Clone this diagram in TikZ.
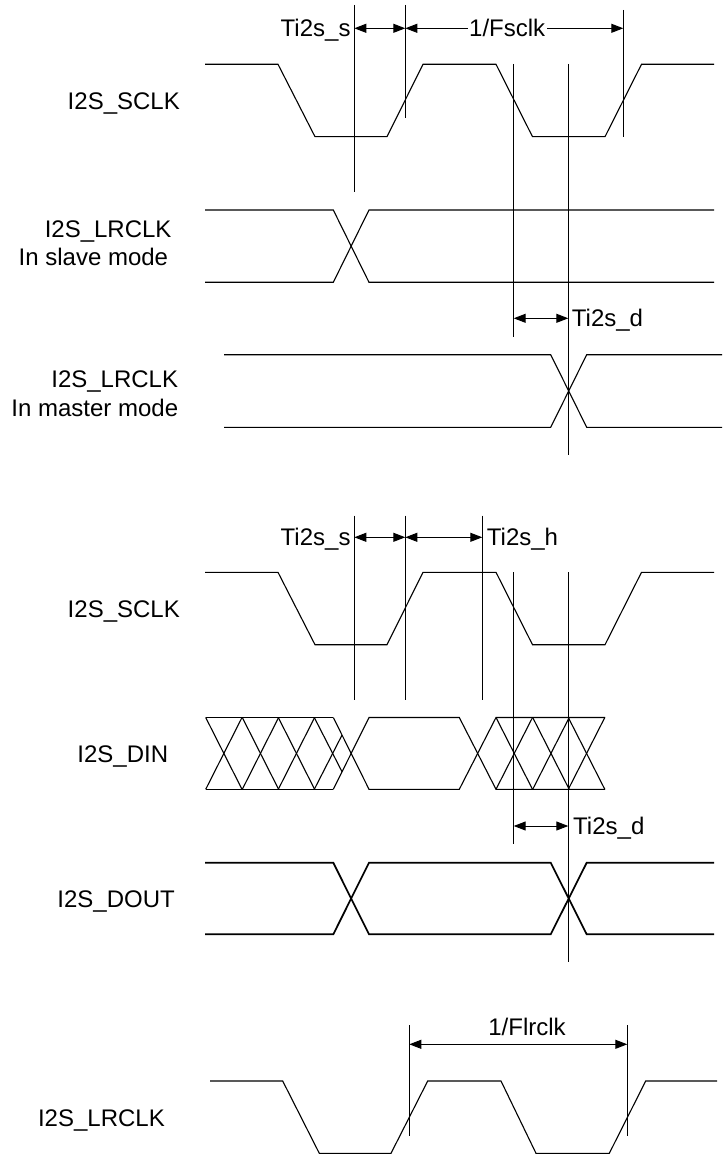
\documentclass[tikz,border=0pt]{standalone}
\usepackage{fontspec}
\setmainfont{Liberation Sans}
\usetikzlibrary{arrows.meta}
\begin{document}
\begin{tikzpicture}[x=1pt,y=-1pt,
  sig/.style={line width=1.1pt, line join=miter},
  boldsig/.style={line width=1.7pt, line join=miter},
  marker/.style={line width=1pt},
  dim/.style={line width=1pt, {Triangle[length=12pt,width=9pt]}-{Triangle[length=12pt,width=9pt]}},
  lbl/.style={font=\fontsize{24}{28}\selectfont, inner sep=0pt},
]
\useasboundingbox (0,0) rectangle (722,1155);

% ---------- signal labels ----------
\node[lbl, anchor=base east] (lsclk1) at (180,109.3) {I2S\_SCLK};
\node[lbl, anchor=base east] (llrs1) at (171.7,237.3) {I2S\_LRCLK};
\node[lbl, anchor=base east] (llrs2) at (168.3,265.7) {In slave mode};
\node[lbl, anchor=base east] (llrm1) at (178.3,387.7) {I2S\_LRCLK};
\node[lbl, anchor=base east] (llrm2) at (178.4,416.1) {In master mode};
\node[lbl, anchor=base east] (lsclk2) at (180,617.3) {I2S\_SCLK};
\node[lbl, anchor=base east] (ldin) at (168.3,762.3) {I2S\_DIN};
\node[lbl, anchor=base east] (ldout) at (175,907.3) {I2S\_DOUT};
\node[lbl, anchor=base east] (llr3) at (165,1126) {I2S\_LRCLK};

% ---------- top section waveforms ----------
\draw[sig] (205,64.3) -- (278,64.3) -- (315,136.7) -- (387,136.7) -- (423,64.3)
  -- (496,64.3) -- (532.5,136.7) -- (605,136.7) -- (641.5,64.3) -- (714,64.3);
\draw[sig] (205,210) -- (333.3,210) -- (369,282.3) -- (714,282.3);
\draw[sig] (205,282.3) -- (333.3,282.3) -- (369,210) -- (714,210);
\draw[sig] (224,354.7) -- (550.7,354.7) -- (586.7,427.3) -- (722,427.3);
\draw[sig] (224,427.3) -- (550.7,427.3) -- (586.7,354.7) -- (722,354.7);

% ---------- top section markers ----------
\coordinate (v1t) at (354.3,5);   \coordinate (v1b) at (354.3,191.7);
\coordinate (v2t) at (405.3,5);   \coordinate (v2b) at (405.3,118);
\coordinate (v3t) at (623.3,10);  \coordinate (v3b) at (623.3,136.7);
\coordinate (v4t) at (513.7,64);  \coordinate (v4b) at (513.7,336.7);
\coordinate (v5t) at (568.3,64);  \coordinate (v5b) at (568.3,455);
\foreach \a in {1,...,5} {\draw[marker] (v\a t) -- (v\a b);}

\coordinate (a1) at (354.3,28.3);
\coordinate (a2) at (405.3,28.3);
\coordinate (a3) at (623.3,28.3);
\draw[dim] (a1) -- (a2);
\draw[dim] (a2) -- (a3);
\node[lbl, anchor=base east] (ts1) at (350.7,36.9) {Ti2s\_s};
\node[lbl, anchor=base, fill=white, inner xsep=1.5pt, inner ysep=0pt] (fs) at (507.2,36.9) {1/Fsclk};

\coordinate (d1a) at (513.7,318.3);
\coordinate (d1b) at (568.3,318.3);
\draw[dim] (d1a) -- (d1b);
\node[lbl, anchor=base west] (td1) at (571.7,326.9) {Ti2s\_d};

% ---------- middle section waveforms ----------
\draw[sig] (205,572.3) -- (278,572.3) -- (315,644.7) -- (387,644.7) -- (423,572.3)
  -- (496,572.3) -- (532.5,644.7) -- (605,644.7) -- (641.5,572.3) -- (714,572.3);

% DIN
\draw[sig] (205.7,717.5) -- (333.3,717.5);
\draw[sig] (205.7,789.3) -- (333.3,789.3);
\foreach \s in {205.7,242.3,278.3} {
  \draw[sig] (\s,717.5) -- ++(36.3,71.8);
  \draw[sig] (\s,789.3) -- ++(36.3,-71.8);
}
\draw[sig] (314.3,717.5) -- (342,771.7);
\draw[sig] (314.3,789.3) -- (342,735.1);
\draw[sig] (333.3,717.5) -- (369,789.3) -- (459.3,789.3) -- (496,717.5) -- (605,717.5);
\draw[sig] (333.3,789.3) -- (369,717.5) -- (459.3,717.5) -- (496,789.3) -- (605,789.3);
\foreach \s in {496,532.7,568.3} {
  \draw[sig] (\s,717.5) -- ++(36.5,71.8);
  \draw[sig] (\s,789.3) -- ++(36.5,-71.8);
}

% DOUT
\draw[boldsig] (205,862.7) -- (333.3,862.7) -- (369,934.3) -- (550.7,934.3) -- (586.7,862.7) -- (714,862.7);
\draw[boldsig] (205,934.3) -- (333.3,934.3) -- (369,862.7) -- (550.7,862.7) -- (586.7,934.3) -- (714,934.3);

% ---------- middle section markers ----------
\coordinate (m1t) at (354.3,515.7); \coordinate (m1b) at (354.3,700);
\coordinate (m2t) at (405.3,515.7); \coordinate (m2b) at (405.3,700);
\coordinate (m3t) at (482.3,515.7); \coordinate (m3b) at (482.3,700);
\coordinate (m4t) at (513.7,572.3); \coordinate (m4b) at (513.7,844.3);
\coordinate (m5t) at (568.3,572.3); \coordinate (m5b) at (568.3,961.7);
\foreach \a in {1,...,5} {\draw[marker] (m\a t) -- (m\a b);}

\coordinate (b1) at (354.3,537.3);
\coordinate (b2) at (405.3,537.3);
\coordinate (b3) at (482.3,537.3);
\draw[dim] (b1) -- (b2);
\draw[dim] (b2) -- (b3);
\node[lbl, anchor=base east] (ts2) at (350.7,545.9) {Ti2s\_s};
\node[lbl, anchor=base west] (th) at (486.7,545.9) {Ti2s\_h};

\coordinate (d2a) at (513.7,826);
\coordinate (d2b) at (568.3,826);
\draw[dim] (d2a) -- (d2b);
\node[lbl, anchor=base west] (td2) at (573,834.6) {Ti2s\_d};

% ---------- bottom section ----------
\draw[sig] (210,1081) -- (282.7,1081) -- (319.3,1153.3) -- (391,1153.3) -- (427.7,1081)
  -- (501,1081) -- (536,1153.3) -- (609.3,1153.3) -- (645.7,1081) -- (717,1081);
\coordinate (w1t) at (409.3,1025); \coordinate (w1b) at (409.3,1136);
\coordinate (w2t) at (627.3,1025); \coordinate (w2b) at (627.3,1136);
\draw[marker] (w1t) -- (w1b);
\draw[marker] (w2t) -- (w2b);
\coordinate (c1) at (409.3,1044.3);
\coordinate (c2) at (627.3,1044.3);
\draw[dim] (c1) -- (c2);
\node[lbl, anchor=base] (flr) at (527,1035) {1/Flrclk};

\end{tikzpicture}
\end{document}
